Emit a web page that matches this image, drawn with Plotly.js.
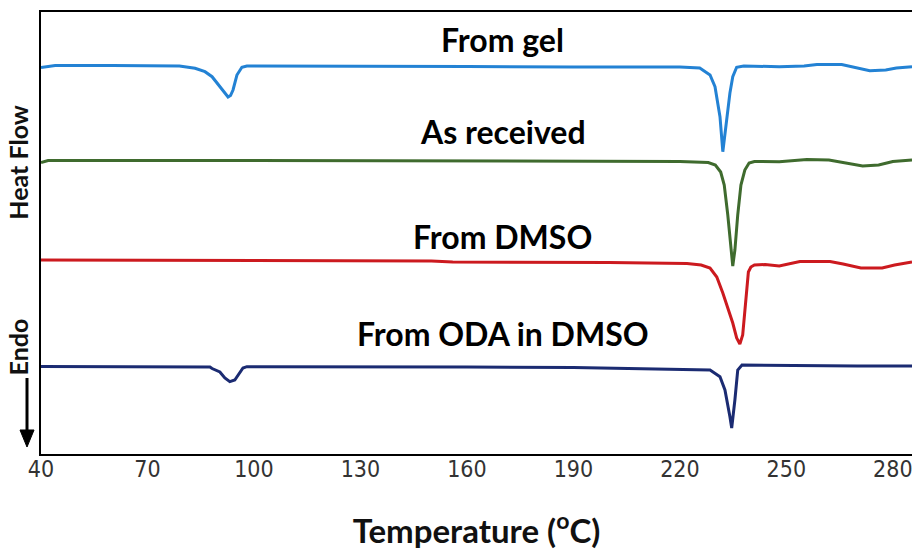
<!DOCTYPE html>
<html>
<head>
<meta charset="utf-8">
<script src="https://cdn.plot.ly/plotly-3.0.1.min.js"></script>
<style>html,body{margin:0;padding:0;background:#fff;}#chart{width:912px;height:550px;}</style>
</head>
<body>
<div id="chart"></div>
<script>
// Temperature (°C) and heat flow (arbitrary units, offset per curve)
var gelT = [40,42,44,60,79,83.4,86.2,88.2,90.4,91.7,92.7,93.4,94.1,95.2,96.6,98,130,160,190,220,225.6,228.5,229.9,231.3,232.1,233.2,234.1,234.9,236,238,248,255,258.6,265.6,268.5,273.5,278,281,285.4];
var gelHF = [38.65,38.75,38.85,38.85,38.8,38.57,38.23,37.73,36.73,36.1,35.7,35.85,36.4,37.9,38.67,38.8,38.8,38.75,38.7,38.7,38.6,37.9,36.73,33.73,30.23,33.7,36.1,37.73,38.67,38.8,38.73,38.8,38.95,38.95,38.7,38.33,38.4,38.6,38.73];

var recT = [40,42,100,160,220,228,230,231.5,232.5,233.5,234.3,234.9,235.5,236.3,237.2,238.3,239.5,241,248,255.8,262,266,271.5,276,280,285.4];
var recHF = [29.15,29.35,29.35,29.3,29.25,29.15,28.9,28.2,26.9,23.9,20.9,18.8,20.4,23.9,26.9,28.4,29.1,29.25,29.23,29.45,29.4,29.15,28.8,28.9,29.25,29.4];

var dmsoT = [40,100,150,156,200,222,226,228.5,230.4,232.1,233.5,234.9,236,236.9,237.7,238.3,238.9,239.3,240,241,244,248,253.8,262.3,266,271,277,280.5,285.4];
var dmsoHF = [19.4,19.35,19.3,19.2,19.15,19.05,18.9,18.6,17.7,16.1,14.6,13.1,11.6,11.0,11.9,14.4,16.9,18.2,18.7,18.9,18.95,18.8,19.25,19.25,19.0,18.6,18.6,18.9,19.2];

var odaT = [40,60,87.6,88.2,90.4,91.8,93.2,94.6,96,96.9,98,130,160,190,220,228.5,231.3,232.7,234.1,234.6,235.5,236.3,237.5,250,270,285.4];
var odaHF = [8.75,8.75,8.7,8.55,8.2,7.6,7.23,7.4,8.2,8.6,8.73,8.75,8.7,8.65,8.5,8.4,7.73,6.4,3.73,2.6,5.4,8.4,8.9,8.85,8.8,8.8];

var seriesNames = ["From gel","As received","From DMSO","From ODA in DMSO"];
var labelHF = [41.5, 32.3, 21.8, 12.1];
var labelT = 170.1;
var xTicks = [40,70,100,130,160,190,220,250,280];

var colors = ["#2382d4","#3f6b2e","#cc1a1f","#1b2b72"];
var xs = [gelT, recT, dmsoT, odaT];
var ys = [gelHF, recHF, dmsoHF, odaHF];

var traces = xs.map(function(x, i){
  return {x: x, y: ys[i], type: "scatter", mode: "lines", name: seriesNames[i],
    line: {color: colors[i], width: 3, shape: "linear"}, hoverinfo: "x+y"};
});

var labelFont = "Lato, 'Open Sans', sans-serif";
var annotations = seriesNames.map(function(n, i){
  return {x: labelT, y: labelHF[i], xref: "x", yref: "y", text: "<b>" + n + "</b>",
    showarrow: false, xanchor: "center", yanchor: "middle",
    font: {family: labelFont, size: 32, color: "#000"}};
});
annotations.push({xref: "paper", yref: "paper", x: -0.026, y: 0.66, text: "<b>Heat Flow</b>",
  textangle: -90, showarrow: false, xanchor: "center", yanchor: "middle",
  font: {family: labelFont, size: 25, color: "#111"}});
annotations.push({xref: "paper", yref: "paper", x: -0.026, y: 0.242, text: "<b>Endo</b>",
  textangle: -90, showarrow: false, xanchor: "center", yanchor: "middle",
  font: {family: labelFont, size: 25, color: "#111"}});

var shapes = [
  {type: "line", xref: "paper", yref: "paper", x0: -0.01607, x1: -0.01607, y0: 0.172, y1: 0.05,
    line: {color: "#000", width: 3}},
  {type: "path", xref: "paper", yref: "paper", path: "M -0.0241 0.0543 L -0.0080 0.0543 L -0.01607 0.0158 Z",
    fillcolor: "#000", line: {color: "#000", width: 1}}
];

var layout = {
  width: 912, height: 550,
  margin: {l: 41, r: 0, t: 12, b: 96},
  paper_bgcolor: "#fff", plot_bgcolor: "#fff",
  showlegend: false,
  xaxis: {range: [40, 285.4], tickvals: xTicks, ticktext: xTicks.map(String),
    showgrid: false, zeroline: false, showline: true, mirror: true, linecolor: "#000", linewidth: 2,
    ticks: "", ticklabelstandoff: -7, ticklabeloverflow: "allow",
    tickfont: {family: "'Liberation Sans Narrow', 'DejaVu Sans Condensed', 'Liberation Sans', sans-serif", size: 23, color: "#333"},
    title: {text: "<b>Temperature (<sup>o</sup>C)</b>", standoff: 48,
      font: {family: labelFont, size: 33, color: "#111"}}},
  yaxis: {range: [0, 44.2], showticklabels: false, showgrid: false, zeroline: false,
    showline: true, linecolor: "#000", linewidth: 2, ticks: ""},
  annotations: annotations,
  shapes: shapes
};

Plotly.newPlot("chart", traces, layout, {staticPlot: true, displayModeBar: false});
</script>
</body>
</html>
